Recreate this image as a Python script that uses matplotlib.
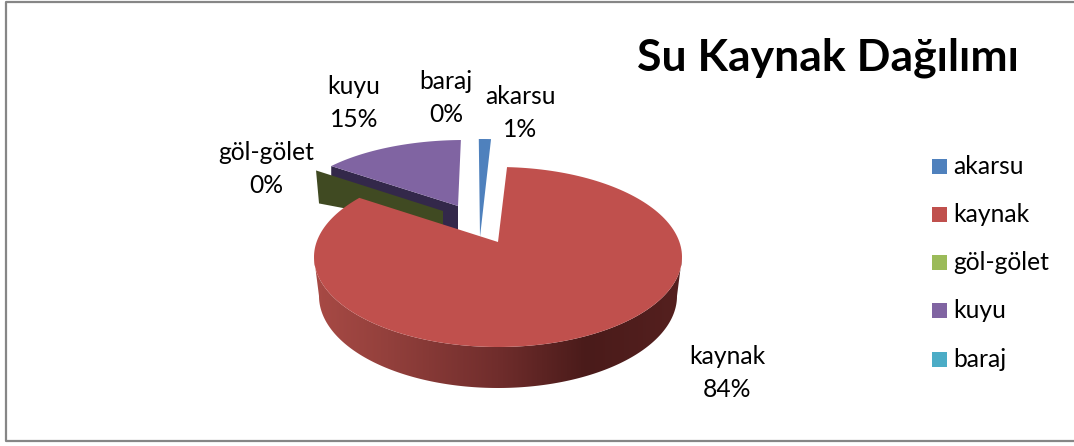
import numpy as np
import matplotlib
matplotlib.use("Agg")
import matplotlib.pyplot as plt
from matplotlib.patches import Polygon, Rectangle
from matplotlib.colors import LinearSegmentedColormap

title = "Su Kaynak Dağılımı"
categories = ["akarsu", "kaynak", "göl-gölet", "kuyu", "baraj"]
values = [1.2, 84.0, 0.2, 14.6, 0.0]
percent_labels = ["1%", "84%", "0%", "15%", "0%"]
colors = ["#4F81BD", "#C0504D", "#9BBB59", "#8064A2", "#4BACC6"]
wall_colors = {"göl-gölet": "#404A22", "kuyu": "#33284A"}

# Pixel-space canvas
W, H = 1074, 446
fig = plt.figure(figsize=(W / 100, H / 100), dpi=100)
ax = fig.add_axes([0, 0, 1, 1])
ax.set_xlim(0, W)
ax.set_ylim(H, 0)
ax.axis("off")
FONT = "Lato"

# Per-slice layout: ellipse centre, radii, apex, wall depth
layout = {
    "akarsu":    dict(c=(482, 229), r=(184, 90), apex=(480, 237), depth=0),
    "kaynak":    dict(c=(498, 257), r=(184, 90), apex=(498, 242), depth=41),
    "göl-gölet": dict(c=(454, 230), r=(184, 90), apex=(443, 211), depth=33),
    "kuyu":      dict(c=(464, 218), r=(178, 78), apex=(458, 206), depth=30),
    "baraj":     dict(c=(458, 230), r=(184, 90), apex=(458, 206), depth=0),
}
label_pos = {
    "akarsu": (520, 113), "kaynak": (727, 373), "göl-gölet": (266, 169),
    "kuyu": (354, 103), "baraj": (446, 98),
}


def warp(theta):
    # Perspective compression of true angle to ellipse parameter (degrees clockwise from top)
    return theta - 6.7 * np.sin(np.radians(theta)) - 1.0


def arc(c, r, t0, t1, n=200):
    t = np.radians(np.linspace(t0, t1, n))
    return np.column_stack([c[0] + r[0] * np.sin(t), c[1] - r[1] * np.cos(t)])


cum = np.concatenate([[0], np.cumsum(values)]) / np.sum(values) * 360
spans = {k: (warp(cum[i]), warp(cum[i + 1])) for i, k in enumerate(categories)}

# Back slices: kuyu wall + top, then göl-gölet panel
L = layout["kuyu"]
t0, t1 = spans["kuyu"]
p0 = arc(L["c"], L["r"], t0, t0, 1)[0]
d = L["depth"]
ax.add_patch(Polygon([p0, L["apex"], (L["apex"][0], L["apex"][1] + d), (p0[0], p0[1] + d)],
                     fc=wall_colors["kuyu"], ec="none", zorder=2))
ax.add_patch(Polygon(np.vstack([[L["apex"]], arc(L["c"], L["r"], t0, t1)]),
                     fc=colors[3], ec="none", zorder=3))

L = layout["göl-gölet"]
t0, t1 = spans["göl-gölet"]
p0 = arc(L["c"], L["r"], (t0 + t1) / 2, (t0 + t1) / 2, 1)[0]
d = L["depth"]
ax.add_patch(Polygon([p0, L["apex"], (L["apex"][0], L["apex"][1] + 16), (p0[0] + 3, p0[1] + d)],
                     fc=wall_colors["göl-gölet"], ec="none", zorder=4))

# akarsu
L = layout["akarsu"]
t0, t1 = spans["akarsu"]
ax.add_patch(Polygon(np.vstack([[L["apex"]], arc(L["c"], L["r"], t0, t1)]),
                     fc=colors[0], ec="none", zorder=3))

# kaynak: outer wall with gradient, then top face
L = layout["kaynak"]
t0, t1 = spans["kaynak"]
top = arc(L["c"], L["r"], 90, 270)
bot = arc((L["c"][0], L["c"][1] + 39), (179, 92), 270, 90)
wall = Polygon(np.vstack([top, bot]), fc="none", ec="none", zorder=5)
ax.add_patch(wall)
cmap = LinearSegmentedColormap.from_list("w", [(0, "#A84A45"), (0.2, "#93403C"), (0.5, "#702D2C"),
                                               (0.74, "#4A1B1A"), (1, "#55201F")])
im = ax.imshow(np.linspace(0, 1, 256)[None, :], extent=(314, 682, 392, 250), aspect="auto",
               cmap=cmap, zorder=5)
im.set_clip_path(wall)
ax.set_xlim(0, W)
ax.set_ylim(H, 0)
ax.add_patch(Polygon(np.vstack([[L["apex"]], arc(L["c"], L["r"], t0, t1)]),
                     fc=colors[1], ec="none", zorder=6))

# Data labels
for k, pct in zip(categories, percent_labels):
    x, y = label_pos[k]
    ax.text(x, y, f"{k}\n{pct}", ha="center", va="center", fontsize=17.7, family=FONT,
            color="black", linespacing=1.5, zorder=8)

# Title
ax.text(828, 58, title, ha="center", va="center", fontsize=32, fontweight="bold", family=FONT, color="black")

# Legend
ys = [166.5, 214.7, 262.7, 310.7, 359.5]
for k, col, y in zip(categories, colors, ys):
    ax.add_patch(Rectangle((932, y - 7.5), 15, 15, fc=col, ec="none"))
    ax.text(953, y, k, ha="left", va="center", fontsize=17.7, family=FONT, color="black")

# Frame
ax.plot([1074, 6, 6, 1074], [1.5, 1.5, 440.5, 440.5], color="#868686", lw=1.6, clip_on=False)

fig.savefig("out.png", dpi=100, facecolor="white")
